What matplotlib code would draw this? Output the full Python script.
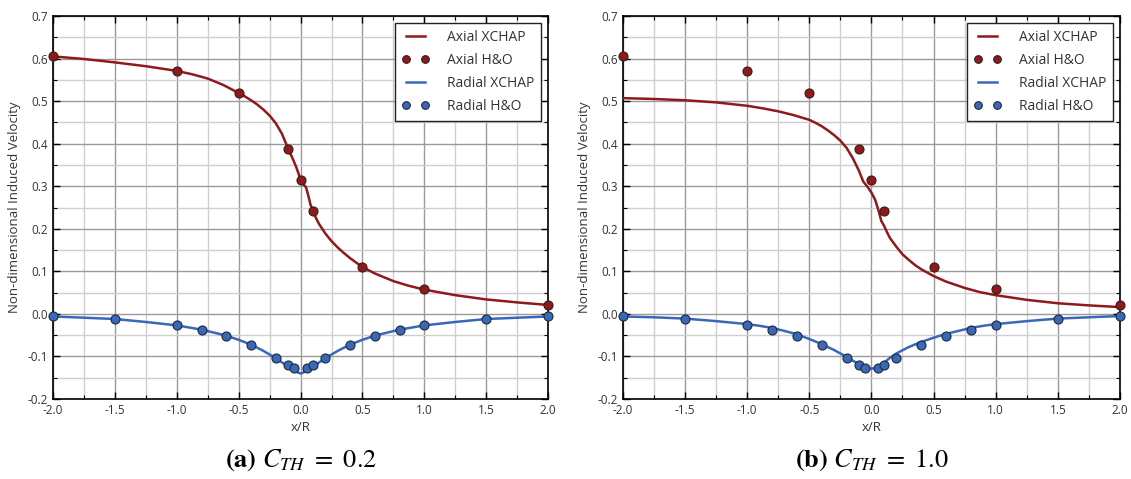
import matplotlib
matplotlib.use("Agg")
import matplotlib.pyplot as plt
from matplotlib.ticker import MultipleLocator
from matplotlib.legend_handler import HandlerLine2D

# ---------------- data ----------------
ho_axial_x = [-2.0, -1.0, -0.5, -0.1, 0.0, 0.1, 0.5, 1.0, 2.0]
ho_axial_y = [0.606, 0.571, 0.520, 0.387, 0.315, 0.242, 0.110, 0.058, 0.022]

ho_radial_x = [-2.0, -1.5, -1.0, -0.8, -0.6, -0.4, -0.2, -0.1, -0.05,
               0.05, 0.1, 0.2, 0.4, 0.6, 0.8, 1.0, 1.5, 2.0]
ho_radial_y = [-0.006, -0.012, -0.027, -0.038, -0.051, -0.072, -0.103, -0.121, -0.128,
               -0.128, -0.121, -0.103, -0.072, -0.051, -0.038, -0.027, -0.012, -0.006]

# XCHAP, C_TH = 0.2
xa_axial_x = [-2.0, -1.75, -1.5, -1.25, -1.0, -0.875, -0.75, -0.625, -0.5, -0.45, -0.4,
              -0.35, -0.3, -0.25, -0.2, -0.15, -0.1, -0.07, -0.035, 0.0, 0.02, 0.045,
              0.065, 0.08, 0.1, 0.125, 0.15, 0.2, 0.25, 0.3, 0.35, 0.4, 0.5, 0.6,
              0.75, 0.875, 1.0, 1.25, 1.5, 1.75, 2.0]
xa_axial_y = [0.605, 0.599, 0.591, 0.582, 0.571, 0.563, 0.553, 0.538, 0.519, 0.511, 0.502,
              0.492, 0.480, 0.466, 0.448, 0.423, 0.388, 0.369, 0.345, 0.316, 0.306, 0.297,
              0.275, 0.257, 0.242, 0.225, 0.211, 0.189, 0.171, 0.156, 0.143, 0.131, 0.110, 0.095,
              0.077, 0.066, 0.057, 0.044, 0.034, 0.027, 0.021]
xa_radial_x = [-2.0, -1.75, -1.5, -1.25, -1.0, -0.9, -0.8, -0.7, -0.6, -0.5, -0.4, -0.3,
               -0.2, -0.15, -0.1, -0.05, -0.02, 0.0, 0.02, 0.05, 0.1, 0.15, 0.2, 0.3,
               0.4, 0.5, 0.6, 0.7, 0.8, 0.9, 1.0, 1.25, 1.5, 1.75, 2.0]
xa_radial_y = [-0.006, -0.009, -0.012, -0.019, -0.027, -0.032, -0.037, -0.044, -0.051, -0.061, -0.072, -0.087,
               -0.104, -0.114, -0.124, -0.133, -0.138, -0.140, -0.138, -0.133, -0.124, -0.114, -0.104, -0.087,
               -0.072, -0.061, -0.051, -0.044, -0.037, -0.032, -0.027, -0.019, -0.012, -0.009, -0.006]

# XCHAP, C_TH = 1.0
xb_axial_x = [-2.0, -1.75, -1.5, -1.25, -1.0, -0.875, -0.75, -0.625, -0.5, -0.45, -0.4,
              -0.35, -0.3, -0.25, -0.2, -0.15, -0.1, -0.066, -0.03, 0.0, 0.03, 0.06,
              0.08, 0.1, 0.125, 0.15, 0.2, 0.25, 0.3, 0.35, 0.4, 0.5, 0.6,
              0.75, 0.875, 1.0, 1.25, 1.5, 1.75, 2.0]
xb_axial_y = [0.507, 0.505, 0.502, 0.497, 0.489, 0.483, 0.476, 0.467, 0.456, 0.449, 0.441,
              0.431, 0.420, 0.407, 0.390, 0.366, 0.336, 0.311, 0.298, 0.285, 0.268, 0.240,
              0.218, 0.208, 0.192, 0.178, 0.158, 0.140, 0.127, 0.115, 0.105, 0.089, 0.076,
              0.061, 0.051, 0.044, 0.033, 0.025, 0.020, 0.016]
xb_radial_x = [-2.0, -1.75, -1.5, -1.25, -1.0, -0.9, -0.8, -0.7, -0.6, -0.5, -0.4, -0.3,
               -0.2, -0.15, -0.1, -0.05, 0.0, 0.05, 0.1, 0.15, 0.2, 0.3,
               0.4, 0.5, 0.6, 0.7, 0.8, 0.9, 1.0, 1.25, 1.5, 1.75, 2.0]
xb_radial_y = [-0.006, -0.008, -0.011, -0.017, -0.024, -0.028, -0.033, -0.040, -0.048, -0.059, -0.071, -0.085,
               -0.101, -0.110, -0.118, -0.125, -0.129, -0.125, -0.115, -0.103, -0.093, -0.078,
               -0.066, -0.056, -0.047, -0.040, -0.033, -0.028, -0.024, -0.017, -0.011, -0.008, -0.005]

x_ticks = [-2.0, -1.5, -1.0, -0.5, 0.0, 0.5, 1.0, 1.5, 2.0]
y_ticks = [-0.2, -0.1, 0.0, 0.1, 0.2, 0.3, 0.4, 0.5, 0.6, 0.7]
captions = [r"$\mathbf{(a)}\ C_{TH}\ =\ 0.2$", r"$\mathbf{(b)}\ C_{TH}\ =\ 1.0$"]

RED = "#8f1a1d"
BLUE = "#3a68b8"

plt.rcParams['font.family'] = ['Open Sans', 'DejaVu Sans']
plt.rcParams['mathtext.fontset'] = 'stix'

fig = plt.figure(figsize=(11.31, 4.79), dpi=100)
positions = [[0.0469, 0.167, 0.4377, 0.7996], [0.5508, 0.167, 0.4394, 0.7996]]
series = [(xa_axial_x, xa_axial_y, xa_radial_x, xa_radial_y),
          (xb_axial_x, xb_axial_y, xb_radial_x, xb_radial_y)]

for i, pos in enumerate(positions):
    ax = fig.add_axes(pos)
    axx, axy, rx, ry = series[i]
    ax.plot(axx, axy, color=RED, lw=1.8, label="Axial XCHAP", zorder=3)
    ax.plot(ho_axial_x, ho_axial_y, ls='none', marker='o', ms=6.5, mfc=RED,
            mec="#3a1a1a", mew=0.8, label="Axial H&O", zorder=4, clip_on=False)
    ax.plot(rx, ry, color=BLUE, lw=1.8, label="Radial XCHAP", zorder=3)
    ax.plot(ho_radial_x, ho_radial_y, ls='none', marker='o', ms=6.5, mfc=BLUE,
            mec="#1f2a3a", mew=0.8, label="Radial H&O", zorder=4, clip_on=False)

    ax.set_xlim(-2, 2)
    ax.set_ylim(-0.2, 0.7)
    ax.set_xticks(x_ticks)
    ax.set_xticklabels([f"{v:.1f}" for v in x_ticks])
    ax.set_yticks(y_ticks)
    ax.set_yticklabels([f"{v:.1f}" for v in y_ticks])
    ax.xaxis.set_minor_locator(MultipleLocator(0.25))
    ax.yaxis.set_minor_locator(MultipleLocator(0.05))
    ax.grid(which='major', color='#9a9a9a', lw=1.0, zorder=0)
    ax.grid(which='minor', color='#cfcfcf', lw=1.0, zorder=0)
    ax.set_axisbelow(True)
    ax.tick_params(which='both', direction='in', top=True, right=True,
                   labelsize=8.5, colors='black', labelcolor='#333333')
    ax.tick_params(which='major', length=5, width=1)
    ax.tick_params(which='minor', length=3, width=0.8)
    for s in ax.spines.values():
        s.set_color('black')
        s.set_linewidth(1.2)
    ax.set_xlabel("x/R", fontsize=9.5, color='#333333', labelpad=3)
    ax.set_ylabel("Non-dimensional Induced Velocity", fontsize=9.5, color='#333333', labelpad=5)

    leg = ax.legend(loc='upper right', bbox_to_anchor=(0.986, 0.982), borderaxespad=0,
                    fontsize=10, frameon=True, fancybox=False, edgecolor='#222222',
                    framealpha=1, handlelength=2.0, handletextpad=1.25, borderpad=0.5,
                    labelspacing=0.58,
                    handler_map={matplotlib.lines.Line2D: HandlerLine2D(numpoints=2)})
    leg.get_frame().set_linewidth(1.0)
    for h in leg.legend_handles:
        if h.get_linestyle() in ('-', 'solid'):
            h.set_marker('')
        else:
            h.set_markersize(5.5)
    for t in leg.get_texts():
        t.set_color('#333333')

    cx = pos[0] + pos[2] / 2
    fig.text(cx, 0.012, captions[i], ha='center', va='bottom', fontsize=19,
             family='STIXGeneral')

fig.savefig("out.png", dpi=100)
